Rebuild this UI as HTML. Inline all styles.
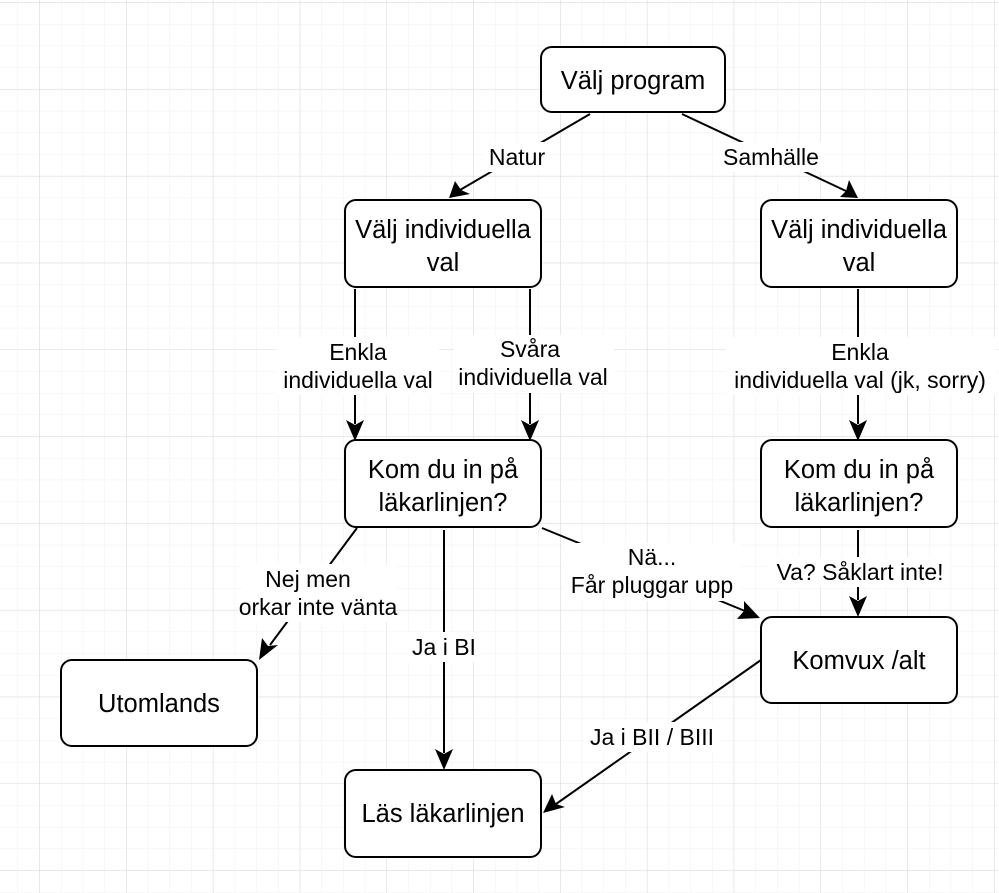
<!DOCTYPE html>
<html><head><meta charset="utf-8"><style>
html,body{margin:0;padding:0;background:#fff}
svg{display:block}
text{font-family:"Liberation Sans",sans-serif;fill:#000}
</style></head><body>
<svg width="999" height="893" xmlns="http://www.w3.org/2000/svg">
<defs>
<pattern id="minor" x="39.3" y="2.3" width="21.7" height="21.7" patternUnits="userSpaceOnUse">
<path d="M0 0H21.7M0 0V21.7" stroke="#f0f0f0" stroke-width="1" fill="none"/>
</pattern>
<pattern id="major" x="39.3" y="2.3" width="86.8" height="86.8" patternUnits="userSpaceOnUse">
<path d="M0 0H86.8M0 0V86.8" stroke="#d8d8d8" stroke-width="1" fill="none"/>
</pattern>
</defs>
<rect width="999" height="893" fill="url(#minor)"/>
<rect width="999" height="893" fill="url(#major)"/>

<g stroke="#000" stroke-width="2" fill="none">
<line x1="590" y1="114" x2="460" y2="190"/>
<line x1="682" y1="114" x2="846" y2="191"/>
<line x1="355" y1="289" x2="355" y2="424"/>
<line x1="530" y1="289" x2="530" y2="424"/>
<line x1="858" y1="289" x2="858" y2="424"/>
<line x1="357" y1="528" x2="270" y2="645"/>
<line x1="444" y1="530" x2="444" y2="753"/>
<line x1="542" y1="528" x2="745" y2="611"/>
<line x1="858" y1="530" x2="858" y2="600"/>
<line x1="761" y1="660" x2="556" y2="804"/>
</g>
<g fill="#000">
<polygon points="449,198 455,181 461,190 470,194"/>
<polygon points="858,198 840,197 846,191 849,180"/>
<polygon points="355,441 346,420 355,425 364,420"/>
<polygon points="530,441 521,420 530,425 539,420"/>
<polygon points="858,441 849,420 858,425 867,420"/>
<polygon points="259,660 262,638 268,646 278,645"/>
<polygon points="444,770 435,749 444,754 453,749"/>
<polygon points="760,618 737,619 744,611 744,601"/>
<polygon points="543,813 552,794 556,804 565,807"/>
<polygon points="858,617 849,596 858,601 867,596"/>
</g>

<g stroke="#000" stroke-width="2" fill="#fff">
<rect x="541" y="47" width="184" height="65" rx="11"/>
<rect x="345" y="200" width="196" height="87" rx="11"/>
<rect x="761" y="200" width="196" height="87" rx="11"/>
<rect x="345" y="440" width="196" height="87" rx="11"/>
<rect x="761" y="440" width="196" height="87" rx="11"/>
<rect x="761" y="617" width="196" height="86" rx="11"/>
<rect x="61" y="660" width="196" height="86" rx="11"/>
<rect x="345" y="770" width="196" height="87" rx="11"/>
</g>

<g font-size="25.5" text-anchor="middle">
<text x="633" y="89">Välj program</text>
<text x="443" y="238">Välj individuella</text>
<text x="443" y="271">val</text>
<text x="859" y="238">Välj individuella</text>
<text x="859" y="271">val</text>
<text x="443" y="478">Kom du in på</text>
<text x="443" y="511">läkarlinjen?</text>
<text x="859" y="478">Kom du in på</text>
<text x="859" y="511">läkarlinjen?</text>
<text x="859" y="669">Komvux /alt</text>
<text x="159" y="712">Utomlands</text>
<text x="443" y="822">Läs läkarlinjen</text>
</g>

<g fill="#fff">
<rect x="484" y="142" width="67" height="30"/>
<rect x="717" y="142" width="108" height="30"/>
<rect x="277" y="337" width="162" height="58"/>
<rect x="454" y="335" width="160" height="58"/>
<rect x="726" y="337" width="270" height="58"/>
<rect x="242" y="564" width="154" height="58"/>
<rect x="408" y="632" width="73" height="30"/>
<rect x="564" y="543" width="176" height="58"/>
<rect x="770" y="557" width="180" height="30"/>
<rect x="584" y="722" width="137" height="30"/>
</g>
<g font-size="23" text-anchor="middle">
<text x="517" y="165">Natur</text>
<text x="771" y="165">Samhälle</text>
<text x="358" y="360">Enkla</text>
<text x="358" y="388">individuella val</text>
<text x="530" y="357">Svåra</text>
<text x="533" y="385">individuella val</text>
<text x="860" y="360">Enkla</text>
<text x="860" y="388">individuella val (jk, sorry)</text>
<text x="308" y="587">Nej men</text>
<text x="318" y="615">orkar inte vänta</text>
<text x="444" y="655">Ja i BI</text>
<text x="652" y="565">Nä...</text>
<text x="652" y="593">Får pluggar upp</text>
<text x="860" y="580">Va? Såklart inte!</text>
<text x="652" y="745">Ja i BII / BIII</text>
</g>
</svg>
</body></html>
